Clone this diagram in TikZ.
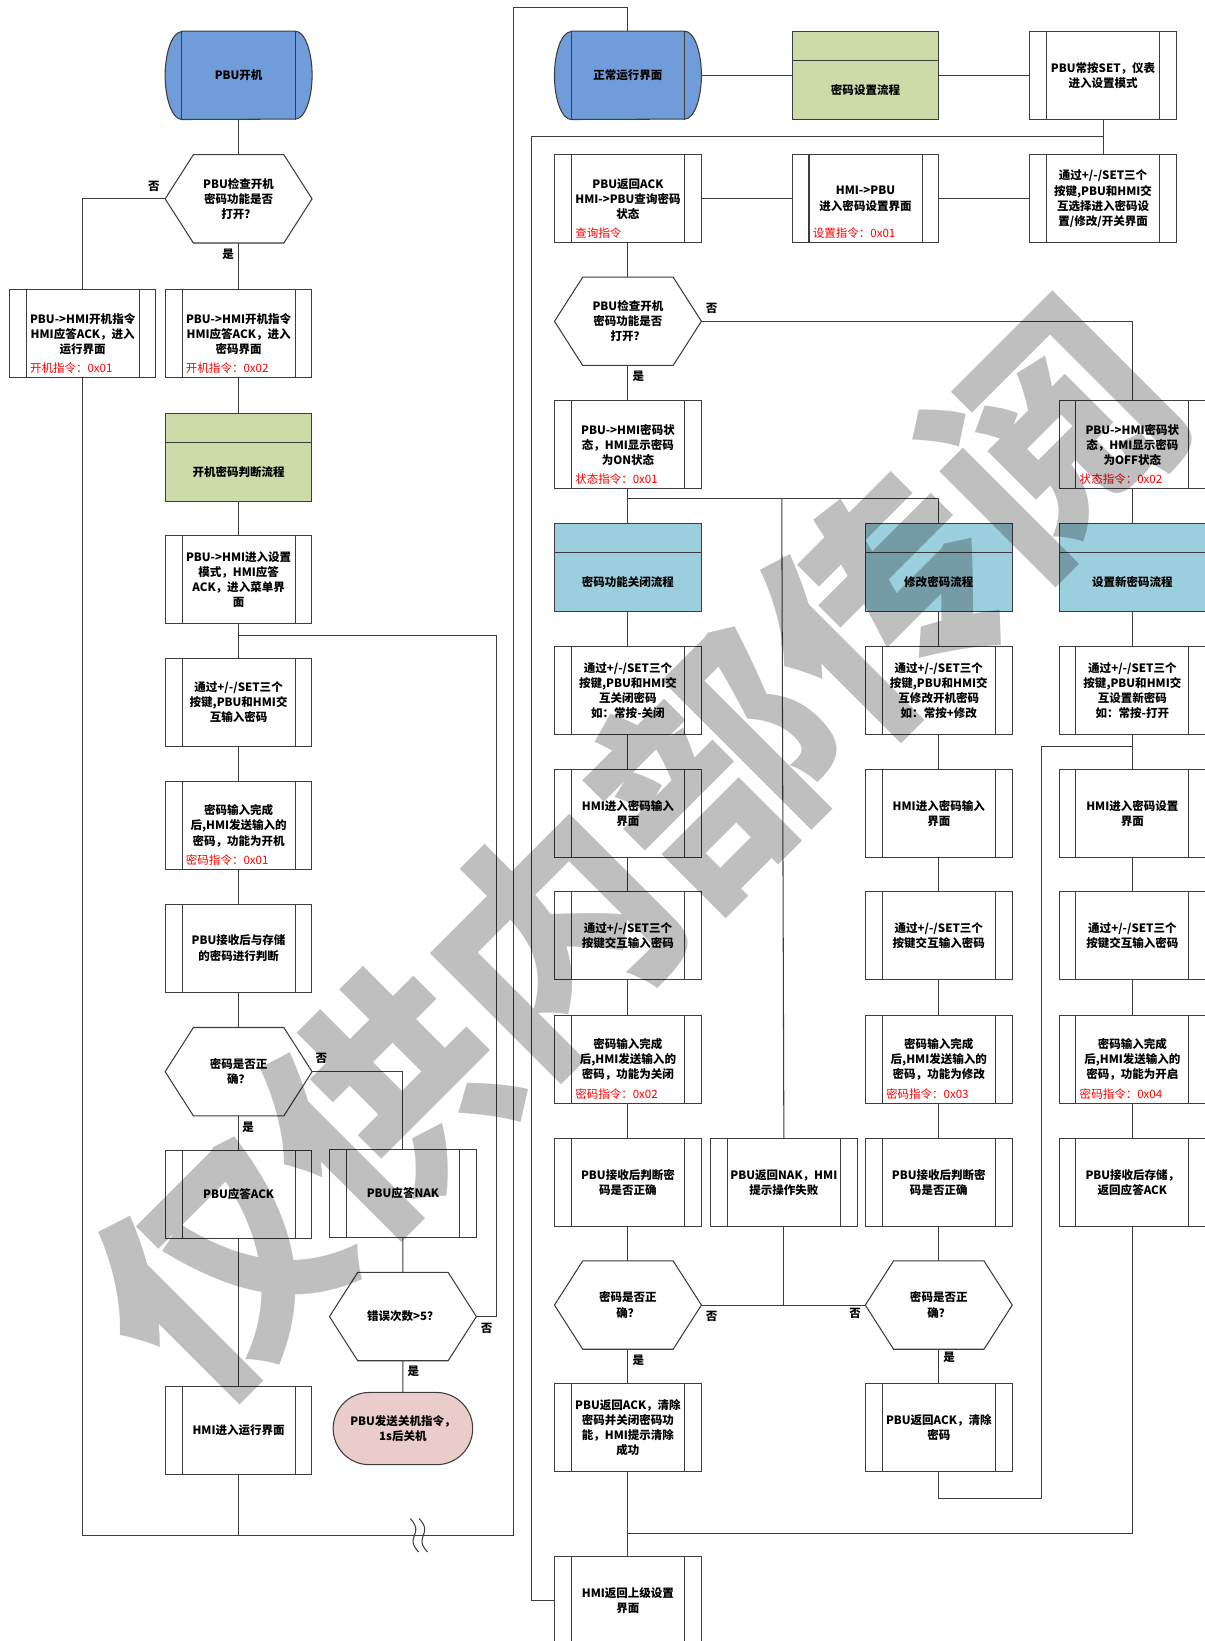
\documentclass[tikz,border=0pt]{standalone}
\usepackage{fontspec}
\setmainfont{Noto Sans CJK SC}
\usetikzlibrary{shapes.misc,backgrounds}
\definecolor{termblue}{RGB}{112,157,217}
\definecolor{flowgreen}{RGB}{204,219,168}
\definecolor{flowcyan}{RGB}{155,207,222}
\definecolor{stoppink}{RGB}{234,204,203}
\definecolor{cmdred}{RGB}{255,0,0}
\definecolor{linegray}{RGB}{60,60,60}

\begin{document}
\begin{tikzpicture}[x=1pt,y=-1pt,
  every node/.style={font=\fontsize{11}{14.5}\selectfont\bfseries, align=center},
  boxsize/.style={minimum width=140pt, minimum height=84pt, inner sep=1pt},
  wire/.style={draw=linegray, line width=1pt},
  procbox/.style={boxsize, wire, fill=white, path picture={
      \draw[wire] ([xshift=16pt]path picture bounding box.north west) -- ([xshift=16pt]path picture bounding box.south west);
      \draw[wire] ([xshift=-16pt]path picture bounding box.north east) -- ([xshift=-16pt]path picture bounding box.south east);}},
  cmd/.style={label={[font=\fontsize{11}{14}\selectfont, text=cmdred, anchor=south west, inner sep=0pt, xshift=20pt, yshift=4pt]south west:#1}},
  flowbox/.style={boxsize, wire, fill=#1, path picture={
      \draw[wire] ([yshift=-28pt]path picture bounding box.north west) -- ([yshift=-28pt]path picture bounding box.north east);}},
  flowtitle/.style={label={[yshift=-14pt]center:#1}},
  yn/.style={inner sep=0pt}
]
\useasboundingbox (0,0) rectangle (1151,1568);

% left column: power on
\node[boxsize] (t0) at (228,72) {PBU开机};
\node[boxsize] (q1) at (228,190) {PBU检查开机\\密码功能是否\\打开？};
\node[procbox, cmd={开机指令：0x01}] (b1) at (79,319) {PBU->HMI开机指令\\HMI应答ACK，进入\\运行界面};
\node[procbox, cmd={开机指令：0x02}] (b2) at (228,319) {PBU->HMI开机指令\\HMI应答ACK，进入\\密码界面};
\node[flowbox=flowgreen, flowtitle=开机密码判断流程] (g1) at (228,437) {};
\node[procbox] (b3) at (228,554) {PBU->HMI进入设置\\模式，HMI应答\\ACK，进入菜单界\\面};
\node[procbox] (b4) at (228,671) {通过+/-/SET三个\\按键,PBU和HMI交\\互输入密码};
\node[procbox, cmd={密码指令：0x01}] (b5) at (228,789) {密码输入完成\\后,HMI发送输入的\\密码，功能为开机};
\node[procbox] (b6) at (228,906) {PBU接收后与存储\\的密码进行判断};
\node[boxsize] (q2) at (228,1024) {密码是否正\\确？};
\node[procbox] (b7) at (228,1141) {PBU应答ACK};
\node[procbox] (b8) at (385,1140) {PBU应答NAK};
\node[boxsize] (q3) at (385,1258) {错误次数>5？};
\node[rounded rectangle, wire, fill=stoppink, minimum width=140pt, minimum height=69pt] (t2) at (385,1365) {PBU发送关机指令，\\1s后关机};
\node[procbox] (b9) at (228,1367) {HMI进入运行界面};

% right part: password settings
\node[boxsize] (t1) at (600,72) {正常运行界面};
\node[flowbox=flowgreen, flowtitle=密码设置流程] (g2) at (827,72) {};
\node[procbox] (r3) at (1054,72) {PBU常按SET，仪表\\进入设置模式};
\node[procbox, cmd={查询指令}] (c1) at (600,190) {PBU返回ACK\\HMI->PBU查询密码\\状态};
\node[procbox, cmd={设置指令：0x01}] (c2) at (827,190) {HMI->PBU\\进入密码设置界面};
\node[procbox] (c3) at (1054,190) {通过+/-/SET三个\\按键,PBU和HMI交\\互选择进入密码设\\置/修改/开关界面};
\node[boxsize] (q4) at (600,307) {PBU检查开机\\密码功能是否\\打开？};
\node[procbox, cmd={状态指令：0x01}] (s1) at (600,425) {PBU->HMI密码状\\态，HMI显示密码\\为ON状态};
\node[procbox, cmd={状态指令：0x02}] (s2) at (1082,425) {PBU->HMI密码状\\态，HMI显示密码\\为OFF状态};

\node[flowbox=flowcyan, flowtitle=密码功能关闭流程] (h1) at (600,542) {};
\node[flowbox=flowcyan, flowtitle=修改密码流程] (h2) at (897,542) {};
\node[flowbox=flowcyan, flowtitle=设置新密码流程] (h3) at (1082,542) {};
\node[procbox] (p1) at (600,660) {通过+/-/SET三个\\按键,PBU和HMI交\\互关闭密码\\如：常按-关闭};
\node[procbox] (p2) at (897,660) {通过+/-/SET三个\\按键,PBU和HMI交\\互修改开机密码\\如：常按+修改};
\node[procbox] (p3) at (1082,660) {通过+/-/SET三个\\按键,PBU和HMI交\\互设置新密码\\如：常按-打开};
\node[procbox] (i1) at (600,777) {HMI进入密码输入\\界面};
\node[procbox] (i2) at (897,777) {HMI进入密码输入\\界面};
\node[procbox] (i3) at (1082,777) {HMI进入密码设置\\界面};
\node[procbox] (k1) at (600,894) {通过+/-/SET三个\\按键交互输入密码};
\node[procbox] (k2) at (897,894) {通过+/-/SET三个\\按键交互输入密码};
\node[procbox] (k3) at (1082,894) {通过+/-/SET三个\\按键交互输入密码};
\node[procbox, cmd={密码指令：0x02}] (w1) at (600,1012) {密码输入完成\\后,HMI发送输入的\\密码，功能为关闭};
\node[procbox, cmd={密码指令：0x03}] (w2) at (897,1012) {密码输入完成\\后,HMI发送输入的\\密码，功能为修改};
\node[procbox, cmd={密码指令：0x04}] (w3) at (1082,1012) {密码输入完成\\后,HMI发送输入的\\密码，功能为开启};
\node[procbox] (v1) at (600,1130) {PBU接收后判断密\\码是否正确};
\node[procbox] (m1) at (749,1130) {PBU返回NAK，HMI\\提示操作失败};
\node[procbox] (v2) at (897,1130) {PBU接收后判断密\\码是否正确};
\node[procbox] (v3) at (1082,1130) {PBU接收后存储，\\返回应答ACK};
\node[boxsize] (q5) at (600,1247) {密码是否正\\确？};
\node[boxsize] (q6) at (897,1247) {密码是否正\\确？};
\node[procbox] (a1) at (600,1364) {PBU返回ACK，清除\\密码并关闭密码功\\能，HMI提示清除\\成功};
\node[procbox] (a2) at (897,1364) {PBU返回ACK，清除\\密码};
\node[procbox] (e1) at (600,1529) {HMI返回上级设置\\界面};

% terminals behind the text
\begin{scope}[on background layer]
  \foreach \t in {t0,t1}{
    \draw[wire, fill=termblue] ([xshift=16pt]\t.north west) -- ([xshift=-16pt]\t.north east)
      arc[start angle=90, end angle=-90, x radius=16pt, y radius=42pt]
      -- ([xshift=16pt]\t.south west)
      arc[start angle=270, end angle=90, x radius=16pt, y radius=42pt] -- cycle;
    \draw[wire] ([xshift=16pt]\t.north west) -- ([xshift=16pt]\t.south west)
      ([xshift=-16pt]\t.north east) -- ([xshift=-16pt]\t.south east);
  }
\end{scope}

% decisions
\foreach \q in {q1,q2,q3,q4,q5,q6}
  \draw[wire] (\q.west) -- ([xshift=27pt]\q.north west) -- ([xshift=-27pt]\q.north east)
    -- (\q.east) -- ([xshift=-27pt]\q.south east) -- ([xshift=27pt]\q.south west) -- cycle;

% connectors, left
\coordinate (cb) at (491,1467);
\coordinate (ct) at (491,7);
\coordinate (cl) at (474,607);
\draw[wire] (t0) -- (q1) -- (b2) -- (g1) -- (b3) -- (b4) -- (b5) -- (b6) -- (q2) -- (b7) -- (b9);
\draw[wire] (q1.west) -| (b1.north);
\draw[wire] (b1.south) |- (cb) -- (ct) -| (t1.north);
\draw[wire] (b9.south) -- (b9.south |- cb);
\draw[wire] (q2.east) -| (b8.north);
\draw[wire] (b8) -- (q3) -- (t2);
\draw[wire] (q3.east) -| (cl) -- (cl -| b3.south);
\foreach \d in {0,8.5}
  \draw[wire, smooth, samples=25, domain=0:32, variable=\t]
    plot ({392+\d+0.25*\t+3*sin(\t*11.25)},{1451+\t});

% connectors, right
\coordinate (cr) at (508,130);
\coordinate (cs) at (747,476);
\coordinate (ca) at (995,1432);
\coordinate (cc) at (995,713);
\coordinate (cd) at (600,1465);
\draw[wire] (t1) -- (g2) -- (r3) -- (c3) -- (c2) -- (c1) -- (q4) -- (s1) -- (h1) -- (p1) -- (i1) -- (k1) -- (w1) -- (v1) -- (q5) -- (a1) -- (e1);
\draw[wire] (cr -| r3.south) -- (cr) |- (e1.west);
\draw[wire] (q4.east) -| (s2.north);
\draw[wire] (s1.south |- cs) -| (h2.north);
\draw[wire] (cs) -- (m1.north);
\draw[wire] (s2) -- (h3) -- (p3) -- (i3) -- (k3) -- (w3) -- (v3);
\draw[wire] (h2) -- (p2) -- (i2) -- (k2) -- (w2) -- (v2) -- (q6) -- (a2);
\draw[wire] (q5) -- (q6);
\draw[wire] (m1.south) -- (m1.south |- q5.east);
\draw[wire] (a2.south) |- (ca) -- (cc) -- (cc -| p3.south);
\draw[wire] (v3.south) |- (cd);

% yes / no
\node[yn] (n1) at (147,178) {否};
\node[yn] (y1) at (218,243) {是};
\node[yn] (n2) at (307,1011) {否};
\node[yn] (y2) at (237,1077) {是};
\node[yn] (n3) at (465,1269) {否};
\node[yn] (y3) at (395,1310) {是};
\node[yn] (n4) at (680,295) {否};
\node[yn] (y4) at (610,360) {是};
\node[yn] (n5) at (680,1258) {否};
\node[yn] (y5) at (610,1300) {是};
\node[yn] (n6) at (817,1255) {否};
\node[yn] (y6) at (907,1297) {是};

% watermark
\node[rotate=45, font=\fontsize{225}{225}\selectfont\bfseries, text=black, text opacity=0.25] (wm) at (606,814) {仅供内部传阅};
\end{tikzpicture}
\end{document}
